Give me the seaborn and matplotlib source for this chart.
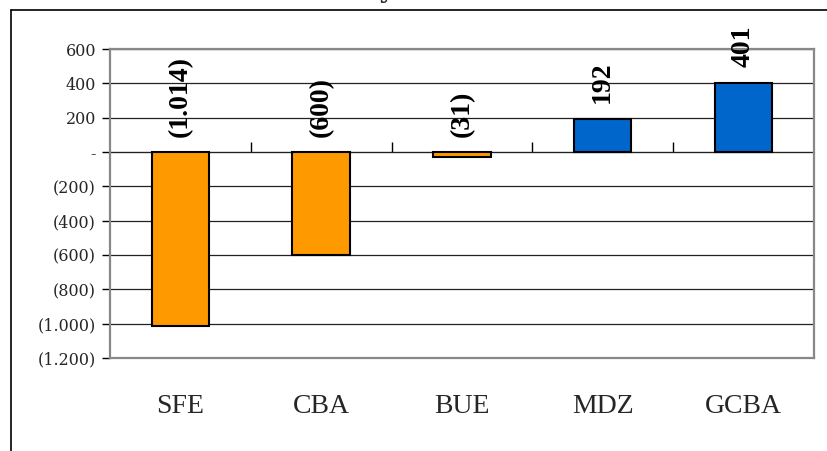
import matplotlib
matplotlib.use("Agg")
import matplotlib.pyplot as plt
import matplotlib.ticker as mticker
from matplotlib.lines import Line2D
import seaborn as sns

# --- Datos ---
regiones = ["SFE", "CBA", "BUE", "MDZ", "GCBA"]
valores = [-1014, -600, -31, 192, 401]
y_ticks = [600, 400, 200, 0, -200, -400, -600, -800, -1000, -1200]

NARANJA = "#FF9900"
AZUL = "#0066CC"


def fmt_num(v):
    if v == 0:
        return "-"
    s = f"{abs(v):,.0f}".replace(",", ".")
    return f"({s})" if v < 0 else s


sns.set_style("white")
plt.rcParams["font.family"] = ["DejaVu Serif"]

fig = plt.figure(figsize=(8.27, 4.51), dpi=100, facecolor="white")
ax = fig.add_axes([0.133, 0.206, 0.851, 0.685])

colores = [NARANJA if v < 0 else AZUL for v in valores]
sns.barplot(x=regiones, y=valores, hue=regiones, palette=colores, legend=False,
            saturation=1, width=0.41, edgecolor="black", linewidth=1.5,
            ax=ax, zorder=3)

ax.set_ylim(-1200, 600)
ax.set_xlim(-0.5, len(regiones) - 0.5)
ax.set_yticks(y_ticks)
ax.yaxis.set_major_formatter(mticker.FuncFormatter(lambda v, _: fmt_num(v)))
ax.tick_params(axis="y", direction="out", length=6, width=1, color="black",
               labelsize=11.5, pad=4, left=True)
ax.grid(axis="y", color="#222222", linewidth=0.9, zorder=0)
ax.grid(axis="x", visible=False)
ax.set_axisbelow(True)
for sp in ax.spines.values():
    sp.set_visible(True)
    sp.set_color("#888888")
    sp.set_linewidth(1.6)

# etiquetas de categoria abajo
ax.set_xticks(range(len(regiones)))
ax.set_xticklabels(regiones)
for t in ax.get_xticklabels():
    t.set_fontfamily(["Liberation Serif"])
    t.set_fontsize(20)
ax.tick_params(axis="x", length=0, pad=26)
ax.set_xlabel("")
ax.set_ylabel("")

# eje de categorias cruzando en cero, marcas entre categorias
sec = ax.secondary_xaxis(2 / 3)
sec.set_xticks([i + 0.5 for i in range(len(regiones) - 1)])
sec.set_xticklabels([])
sec.tick_params(direction="out", length=7, width=1, color="black")
sec.spines["bottom"].set_color("black")
sec.spines["bottom"].set_linewidth(1.2)

# etiquetas de valores
for i, v in enumerate(valores):
    if v >= 0:
        base, off = v, 12
    else:
        base, off = 0, 11
    ax.annotate(fmt_num(v), xy=(i, base), xytext=(0, off), textcoords="offset points",
                rotation=90, ha="center", va="bottom", fontsize=20,
                fontweight="bold", family=["Liberation Serif"], color="black",
                zorder=5)

# marco exterior
fig.add_artist(Line2D([11 / 827, 11 / 827], [0, 1 - 10 / 451],
                      transform=fig.transFigure, color="black", linewidth=1.2))
fig.add_artist(Line2D([11 / 827, 1], [1 - 10 / 451, 1 - 10 / 451],
                      transform=fig.transFigure, color="black", linewidth=1.2))
fig.text(0.468, 1 + 3 / 451, "y", fontsize=20, ha="center", va="baseline")

plt.savefig("out.png", dpi=100, facecolor="white")
